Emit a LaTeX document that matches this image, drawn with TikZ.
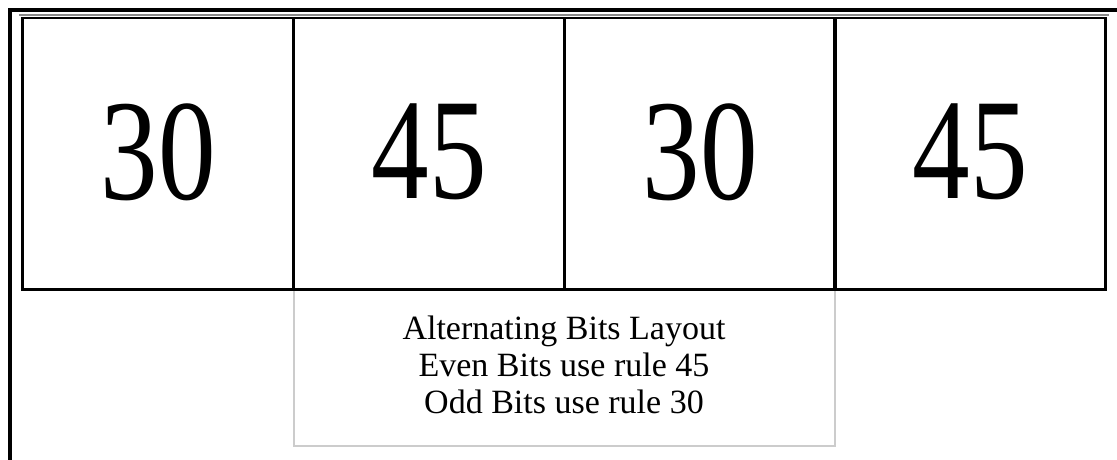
\documentclass[tikz,border=0pt]{standalone}
\usepackage{fontspec}
\setmainfont{Liberation Serif}
\newfontfamily\digitfont[FakeStretch=0.8]{Liberation Serif}
\definecolor{capgray}{HTML}{CCCCCC}
\definecolor{topgray}{HTML}{8A8A8A}
\begin{document}
\begin{tikzpicture}[x=1pt,y=-1pt,
  cell/.style={draw=black,line width=3.5pt,minimum width=271pt,minimum height=272.5pt,inner sep=0pt,
    font=\digitfont\fontsize{144}{144}\selectfont},
  capbox/.style={draw=capgray,line width=2pt,minimum width=541pt,minimum height=157pt,inner sep=0pt},
  captext/.style={align=center,inner sep=0pt,font=\fontsize{34}{37}\selectfont},
  frame/.style={line width=4pt,black}]
\useasboundingbox (0,0) rectangle (1117,460);
\fill[white] (0,0) rectangle (1117,460);
\draw[frame] (10,462) -- (10,10) -- (1120,10);
\node[capbox] (cap) at (564,367.5) {};
\node[captext] (captxt) at ([yshift=3pt]cap.center) {Alternating Bits Layout\\Even Bits use rule 45\\Odd Bits use rule 30};
\node[cell] (c1) at (158,153.25) {\raisebox{4pt}{30}};
\node[cell] (c2) at (429,153.25) {\raisebox{4pt}{45}};
\node[cell] (c3) at (700,153.25) {\raisebox{4pt}{30}};
\node[cell] (c4) at (970,153.25) {\raisebox{4pt}{45}};
\draw[white,line width=3.8pt] ([xshift=-1.5pt]c1.north west) -- ([xshift=1.5pt]c4.north east);
\draw[topgray,line width=2pt] ([xshift=-1.75pt]c1.north west) -- ([xshift=1.75pt]c4.north east);
\end{tikzpicture}
\end{document}
